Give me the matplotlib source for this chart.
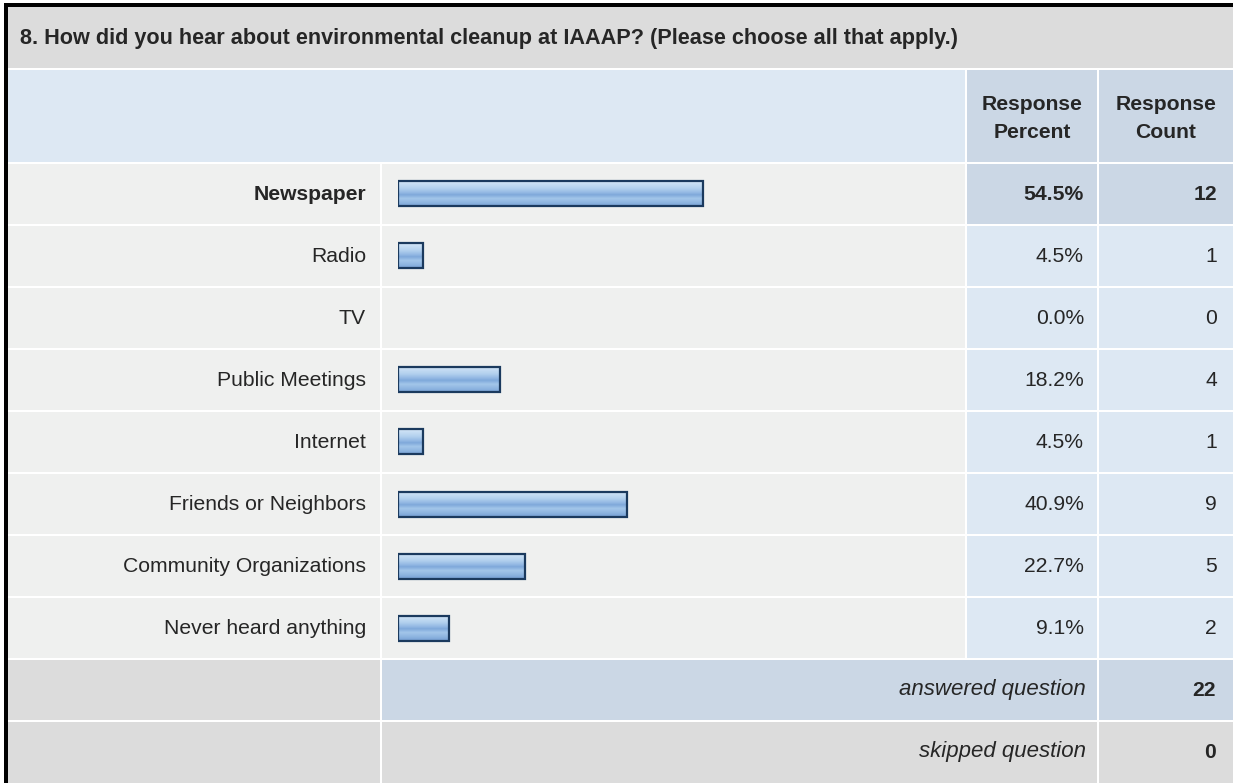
import numpy as np
import matplotlib
matplotlib.use("Agg")
import matplotlib.pyplot as plt
from matplotlib.colors import LinearSegmentedColormap
from matplotlib.patches import Rectangle

title = "8. How did you hear about environmental cleanup at IAAAP? (Please choose all that apply.)"
answers = ["Newspaper", "Radio", "TV", "Public Meetings", "Internet",
           "Friends or Neighbors", "Community Organizations", "Never heard anything"]
percents = [54.5, 4.5, 0.0, 18.2, 4.5, 40.9, 22.7, 9.1]
counts = [12, 1, 0, 4, 1, 9, 5, 2]
answered = 22
skipped = 0
highlight = "Newspaper"

# --- page geometry, pixels ---
W, H = 1233, 783
X0, XL, XB, XP, XC, X1 = 8, 380, 382, 967, 1099, 1233    # column edges
TITLE_Y = (7, 68)
HEAD_Y = (70, 162)
ROW0, PITCH, CELL_H = 164, 62, 60

GREY = "#dcdcdc"
LIGHT = "#eff0ef"
BLUE = "#dde8f3"
BLUE2 = "#cbd7e5"
NAVY = "#1b3a5e"
TXT = "#262626"
SANS = ["Liberation Sans", "DejaVu Sans"]
FS = 15.2

fig = plt.figure(figsize=(W / 100, H / 100), dpi=100)
ax = fig.add_axes([0, 0, 1, 1])
ax.set_xlim(0, W); ax.set_ylim(H, 0); ax.axis('off')


def cell(x0, x1, y0, y1, color):
    ax.add_patch(Rectangle((x0, y0), x1 - x0, y1 - y0, facecolor=color, edgecolor='none'))


# black frame on the left and top
ax.add_patch(Rectangle((4, 3), 3.5, H, facecolor='black', edgecolor='none'))
ax.add_patch(Rectangle((4, 3), W, 3.5, facecolor='black', edgecolor='none'))

# title + header
cell(X0, X1, *TITLE_Y, GREY)
ax.text(20, sum(TITLE_Y) / 2 + 1, title, ha='left', va='center', fontsize=15.6,
        fontweight='bold', color=TXT, family=SANS)
cell(X0, XP - 2, *HEAD_Y, BLUE)
cell(XP, XC - 2, *HEAD_Y, BLUE2)
cell(XC, X1, *HEAD_Y, BLUE2)
ax.text((XP + XC - 2) / 2, sum(HEAD_Y) / 2 + 2, "Response\nPercent", ha='center', va='center',
        fontsize=FS, fontweight='bold', color=TXT, family=SANS, linespacing=1.6)
ax.text((XC + X1) / 2, sum(HEAD_Y) / 2 + 2, "Response\nCount", ha='center', va='center',
        fontsize=FS, fontweight='bold', color=TXT, family=SANS, linespacing=1.6)

# answer rows
for i, (name, pct, n) in enumerate(zip(answers, percents, counts)):
    y0 = ROW0 + i * PITCH
    y1 = y0 + CELL_H
    yc = (y0 + y1) / 2
    hot = name == highlight
    cell(X0, XL, y0, y1, LIGHT)
    cell(XB, XP - 2, y0, y1, LIGHT)
    cell(XP, XC - 2, y0, y1, BLUE2 if hot else BLUE)
    cell(XC, X1, y0, y1, BLUE2 if hot else BLUE)
    wt = 'bold' if hot else 'normal'
    ax.text(366, yc, name, ha='right', va='center', fontsize=FS, fontweight=wt,
            color=TXT, family=SANS)
    ax.text(1084, yc, f"{pct:.1f}%", ha='right', va='center', fontsize=FS,
            fontweight=wt, color=TXT, family=SANS)
    ax.text(1217, yc, str(n), ha='right', va='center', fontsize=FS,
            fontweight=wt, color=TXT, family=SANS)

# summary rows
ya = ROW0 + len(answers) * PITCH
cell(X0, XL, ya, ya + CELL_H, GREY)
cell(XB, XC - 2, ya, ya + CELL_H, BLUE2)
cell(XC, X1, ya, ya + CELL_H, BLUE2)
ys = ya + PITCH
cell(X0, XL, ys, H, GREY)
cell(XB, XC - 2, ys, H, GREY)
cell(XC, X1, ys, H, GREY)
for y, lab, val in [(ya + CELL_H / 2, "answered question", answered),
                    (ys + CELL_H / 2, "skipped question", skipped)]:
    ax.text(1086, y, lab, ha='right', va='center', fontsize=16, fontstyle='italic',
            color=TXT, family=SANS)
    ax.text(1216, y, str(val), ha='right', va='center', fontsize=FS, fontweight='bold',
            color=TXT, family=SANS)

# bars in their own axes: 0..100 % across 560 px
bx0, bw = 398, 560
top, bot = ROW0 - 1, ROW0 - 1 + len(answers) * PITCH
bax = fig.add_axes([bx0 / W, 1 - bot / H, bw / W, (bot - top) / H])
bax.patch.set_alpha(0); bax.axis('off')

grad_cmap = LinearSegmentedColormap.from_list("bar", [
    (0.0, "#d4e6f7"), (0.3, "#b2d0ee"), (0.48, "#8fb5e2"), (0.55, "#7ea8da"),
    (0.7, "#a3c6ea"), (0.88, "#8db4e0"), (1.0, "#7aa4d6")])
grad = np.linspace(0, 1, 64).reshape(-1, 1)

rows = np.arange(len(answers))
bh = 25 / PITCH
lw = [1.6 if p > 0 else 0 for p in percents]
bars = bax.barh(rows, percents, height=bh, color='none', edgecolor=NAVY, linewidth=lw,
                zorder=3)
for b, p in zip(bars, percents):
    if p <= 0:
        continue
    bax.imshow(grad, cmap=grad_cmap, aspect='auto', interpolation='bilinear', zorder=2,
               extent=[b.get_x(), b.get_x() + b.get_width(),
                       b.get_y() + b.get_height(), b.get_y()])
bax.set_xlim(0, 100)
bax.set_ylim(len(answers) - 0.5, -0.5)

fig.savefig("out.png", dpi=100)
